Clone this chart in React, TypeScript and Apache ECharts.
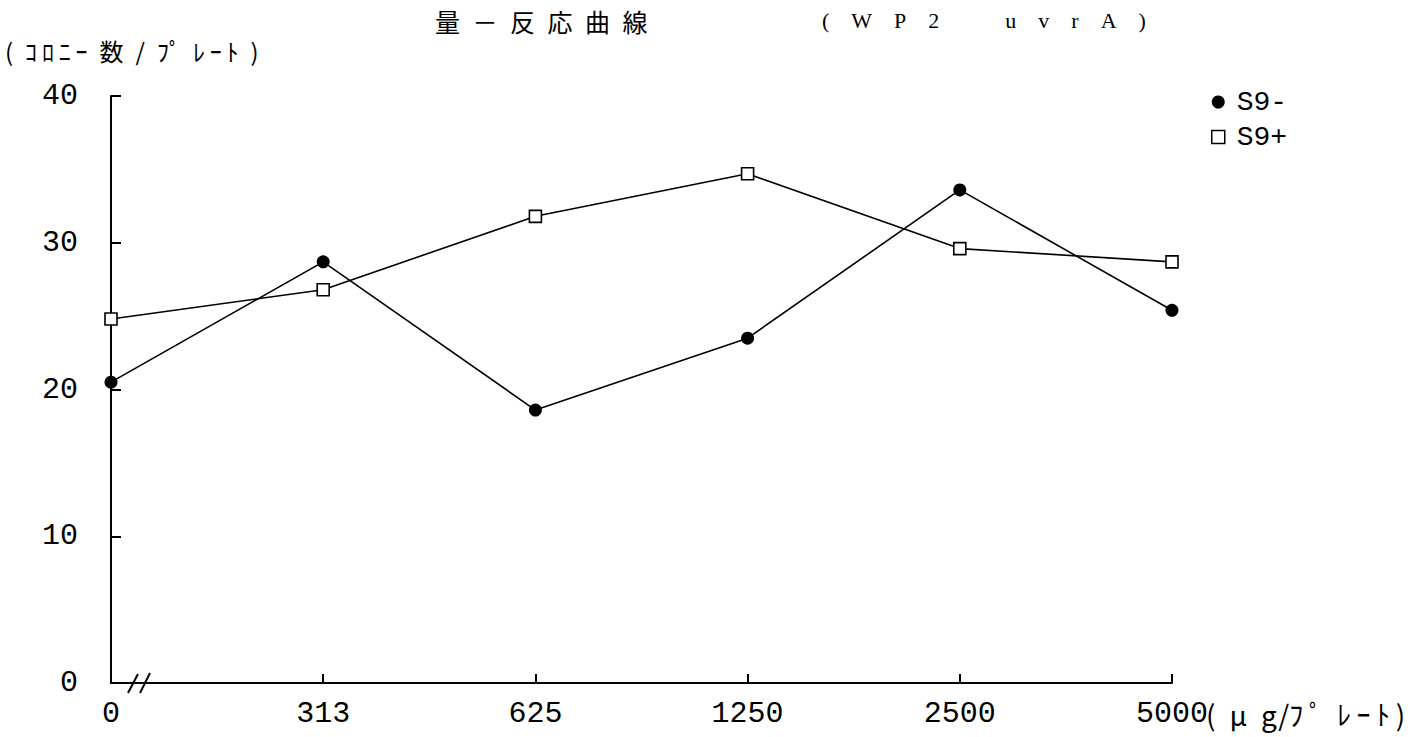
import React, { useEffect, useRef } from "react";
import * as echarts from "echarts";

const doses = ["0", "313", "625", "1250", "2500", "5000"];
const s9Minus = [20.5, 28.7, 18.6, 23.5, 33.6, 25.4];
const s9Plus = [24.8, 26.8, 31.8, 34.7, 29.6, 28.7];
const seriesNames = ["S9-", "S9+"];
const yMin = 0;
const yMax = 40;
const yStep = 10;

const titleMain = ["量", "－", "反", "応", "曲", "線"].join("\u2002");
const titleStrain = "(\u2003W\u2003P\u20032\u2003\u2003\u2003u\u2003v\u2003r\u2003A\u2003)";
const yName = "(\u2002ｺ\u2009ﾛ\u2009ﾆ\u2009ｰ\u2002数\u2002/\u2002ﾌﾟ\u2002ﾚ\u2009ｰ\u2009ﾄ\u2002)";
const xUnit = "(\u2002μ\u2002g/ﾌ\u2009ﾟ\u2002ﾚ\u2009ｰ\u2009ﾄ\u2009)";

const NUM_FONT = "'Liberation Mono', monospace";
const JP_FONT = "'Noto Sans CJK JP', sans-serif";
const SERIF = "'Liberation Serif', serif";

export default function App() {
  const ref = useRef<HTMLDivElement>(null);
  useEffect(() => {
    const chart = echarts.init(ref.current!, null, { renderer: "svg" });
    chart.setOption({
      animation: false,
      backgroundColor: "#ffffff",
      grid: { left: 111, right: 246, top: 96, bottom: 54 },
      legend: {
        orient: "vertical",
        left: 1206,
        top: 83,
        itemWidth: 13,
        itemHeight: 13,
        itemGap: 7,
        textStyle: {
          fontFamily: NUM_FONT,
          fontSize: 28,
          color: "#000",
          lineHeight: 28,
          padding: [0, 0, 0, 7],
        },
        data: [
          { name: seriesNames[0], icon: "circle", itemStyle: { color: "#000" } },
          {
            name: seriesNames[1],
            icon: "rect",
            itemStyle: { color: "#fff", borderColor: "#000", borderWidth: 1.5 },
          },
        ],
      },
      xAxis: {
        type: "category",
        data: doses,
        boundaryGap: false,
        axisLine: { show: true, lineStyle: { color: "#000", width: 2 } },
        axisTick: { show: true, inside: true, length: 9, lineStyle: { color: "#000", width: 2 } },
        axisLabel: { margin: 16, fontFamily: NUM_FONT, fontSize: 30, color: "#000" },
        splitLine: { show: false },
      },
      yAxis: {
        type: "value",
        min: yMin,
        max: yMax,
        interval: yStep,
        axisLine: { show: true, lineStyle: { color: "#000", width: 2 } },
        axisTick: { show: true, inside: true, length: 10, lineStyle: { color: "#000", width: 2 } },
        axisLabel: { margin: 33, fontFamily: NUM_FONT, fontSize: 30, color: "#000" },
        splitLine: { show: false },
      },
      series: [
        {
          name: seriesNames[0],
          type: "line",
          data: s9Minus,
          symbol: "circle",
          symbolSize: 13,
          itemStyle: { color: "#000" },
          lineStyle: { color: "#000", width: 1.6 },
          z: 3,
        },
        {
          name: seriesNames[1],
          type: "line",
          data: s9Plus,
          symbol: "rect",
          symbolSize: 12,
          itemStyle: { color: "#fff", borderColor: "#000", borderWidth: 1.6 },
          lineStyle: { color: "#000", width: 1.6 },
          z: 4,
        },
      ],
    });

    const origin = chart.convertToPixel({ xAxisIndex: 0, yAxisIndex: 0 }, [0, 0]) as number[];
    const lastX = chart.convertToPixel({ xAxisIndex: 0 }, doses.length - 1) as number;
    const ox = origin[0];
    const oy = origin[1];

    chart.setOption({
      graphic: [
        {
          type: "text",
          left: 435,
          top: 8,
          style: { text: titleMain, fontFamily: JP_FONT, fontSize: 25, fill: "#000" },
        },
        {
          type: "text",
          left: 822,
          top: 9,
          style: { text: titleStrain, fontFamily: SERIF, fontSize: 22, fill: "#000" },
        },
        {
          type: "text",
          left: 5,
          top: 38,
          style: { text: yName, fontFamily: JP_FONT, fontSize: 24, fill: "#000" },
        },
        {
          type: "text",
          x: lastX + 34,
          y: oy + 31,
          style: {
            text: xUnit,
            fontFamily: JP_FONT,
            fontSize: 28,
            fill: "#000",
            verticalAlign: "middle",
            align: "left",
          },
        },
        {
          type: "line",
          shape: { x1: ox + 17, y1: oy + 10, x2: ox + 27, y2: oy - 9 },
          style: { stroke: "#000", lineWidth: 2 },
        },
        {
          type: "line",
          shape: { x1: ox + 29, y1: oy + 10, x2: ox + 39, y2: oy - 10 },
          style: { stroke: "#000", lineWidth: 2 },
        },
      ],
    });

    return () => chart.dispose();
  }, []);
  return (
    <div
      ref={ref}
      style={{ position: "absolute", left: 0, top: 0, width: 1418, height: 737, background: "#fff" }}
    />
  );
}
